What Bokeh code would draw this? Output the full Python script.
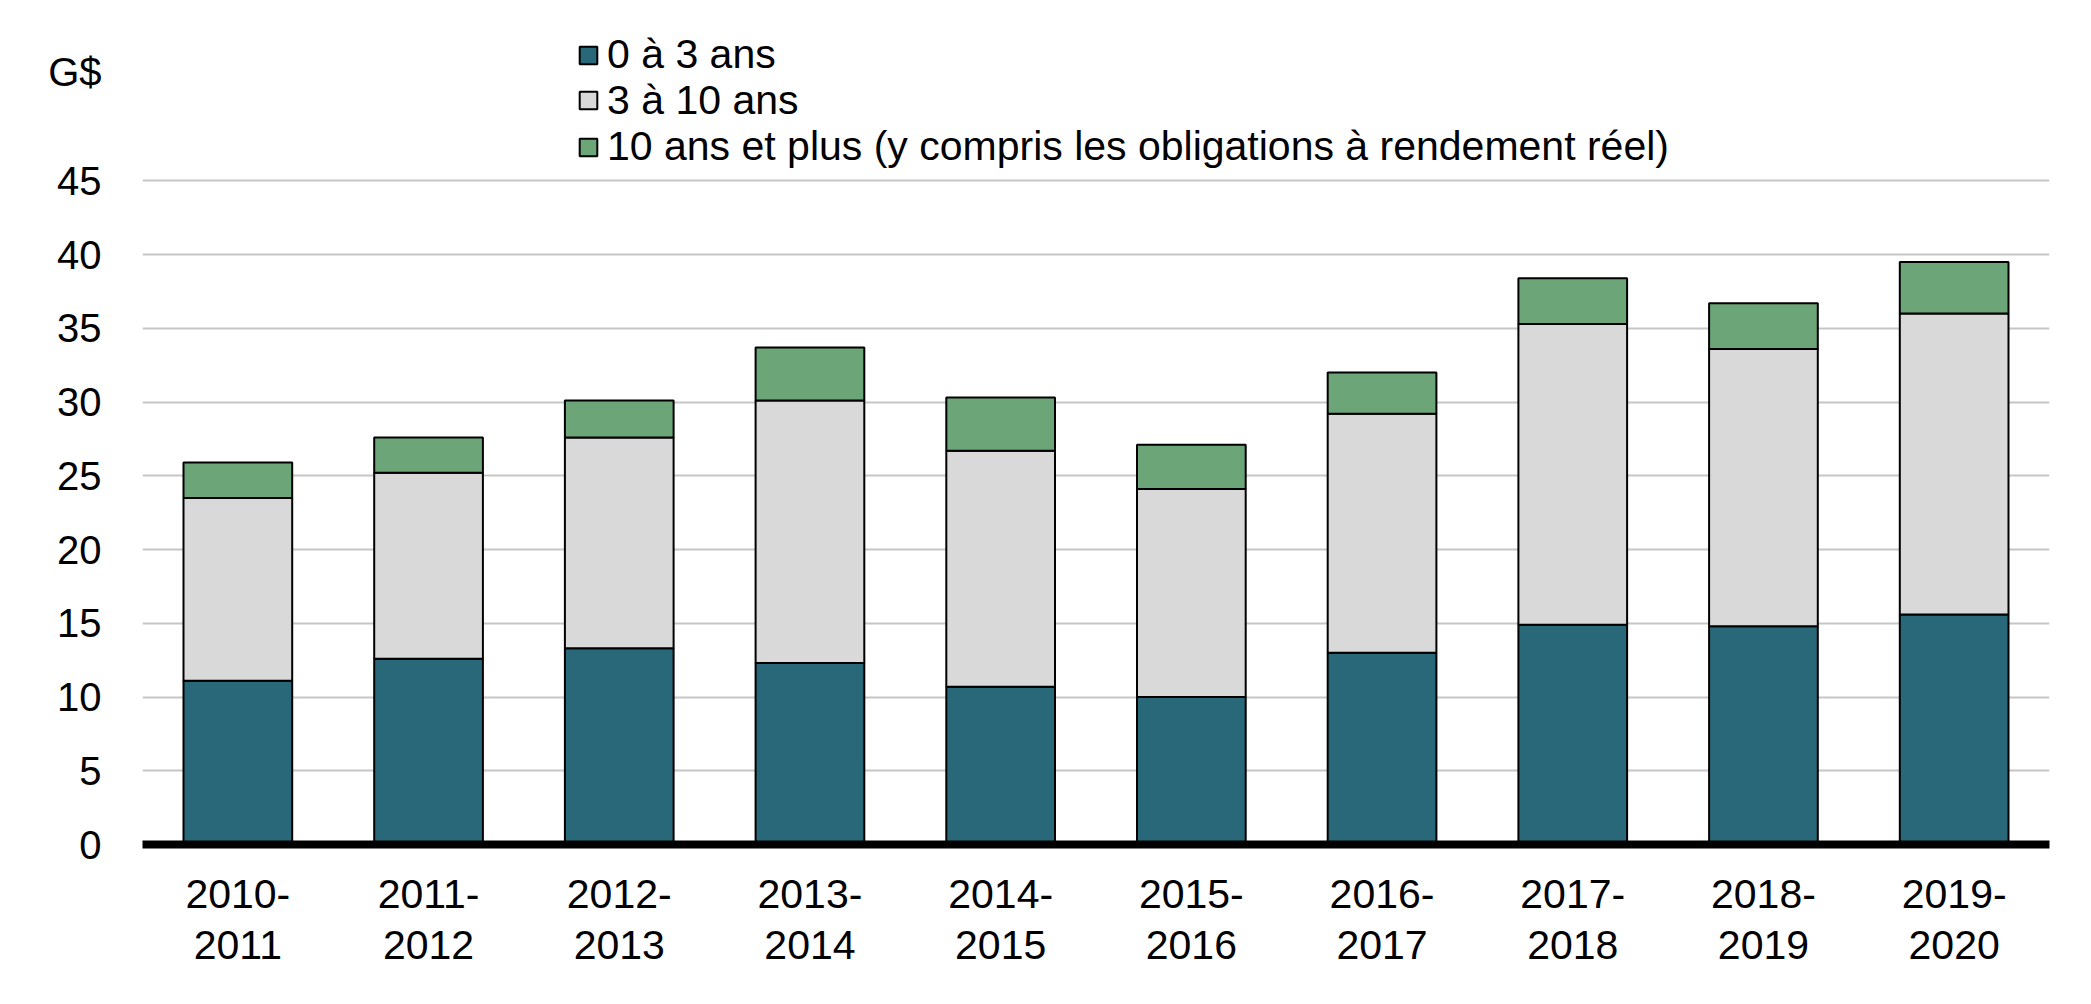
from bokeh.plotting import figure
from bokeh.models import Range1d, FactorRange, Legend, ColumnDataSource, FixedTicker
from bokeh.embed import file_html
from bokeh.resources import INLINE

years = ["2010-\n2011", "2011-\n2012", "2012-\n2013", "2013-\n2014", "2014-\n2015",
         "2015-\n2016", "2016-\n2017", "2017-\n2018", "2018-\n2019", "2019-\n2020"]
short_term = [11.1, 12.6, 13.3, 12.3, 10.7, 10.0, 13.0, 14.9, 14.8, 15.6]
mid_term = [12.4, 12.6, 14.3, 17.8, 16.0, 14.1, 16.2, 20.4, 18.8, 20.4]
long_term = [2.4, 2.4, 2.5, 3.6, 3.6, 3.0, 2.8, 3.1, 3.1, 3.5]
series_names = ["0 à 3 ans", "3 à 10 ans",
                "10 ans et plus (y compris les obligations à rendement réel)"]
y_ticks = [0, 5, 10, 15, 20, 25, 30, 35, 40, 45]
unit_label = "G$"
unit_pos = 52.4

colors = ["#296878", "#D9D9D9", "#6CA577"]
FONT = "Liberation Sans"

source = ColumnDataSource(dict(years=years, a=short_term, b=mid_term, c=long_term))

# frame spans from near the top of the figure (room for legend) down to the zero line
p = figure(width=2091, height=1004, output_backend="svg", toolbar_location=None,
           x_range=FactorRange(factors=years, range_padding=0),
           y_range=Range1d(0, 55.87),
           min_border_left=142, min_border_right=42, min_border_top=20, min_border_bottom=160)

renderers = p.vbar_stack(["a", "b", "c"], x="years", width=0.57, source=source,
                         fill_color=colors, line_color="black", line_width=2)

p.outline_line_color = None
p.xgrid.grid_line_color = None
p.ygrid.ticker = FixedTicker(ticks=y_ticks)
p.ygrid.grid_line_color = "#C6C6C6"
p.ygrid.grid_line_width = 2

p.yaxis.ticker = FixedTicker(ticks=y_ticks + [unit_pos])
p.yaxis.major_label_overrides = {unit_pos: unit_label}
p.yaxis.axis_line_color = None
p.yaxis.major_tick_line_color = None
p.yaxis.minor_tick_line_color = None
p.yaxis.major_label_standoff = 35
p.yaxis.major_label_text_font = FONT
p.yaxis.major_label_text_font_size = "40px"
p.yaxis.major_label_text_color = "black"

p.xaxis.axis_line_color = "black"
p.xaxis.axis_line_width = 8
p.xaxis.major_tick_line_color = None
p.xaxis.minor_tick_line_color = None
p.xaxis.major_label_standoff = 20
p.xaxis.major_label_text_font = FONT
p.xaxis.major_label_text_font_size = "41px"
p.xaxis.major_label_text_color = "black"
p.xaxis.major_label_text_line_height = 1.12

legend_bottoms = [765.7, 720.2, 673.7]
for name, r, yb in zip(series_names, renderers, legend_bottoms):
    lg = Legend(items=[(name, [r])], location=(435, yb), orientation="vertical",
                padding=0, margin=0, spacing=0, label_height=40,
                glyph_width=22, glyph_height=22, label_standoff=8,
                label_text_font=FONT, label_text_font_size="41px",
                label_text_color="black",
                border_line_alpha=0, background_fill_alpha=0)
    p.add_layout(lg, "center")

open("out.html", "w").write(file_html(p, INLINE))
